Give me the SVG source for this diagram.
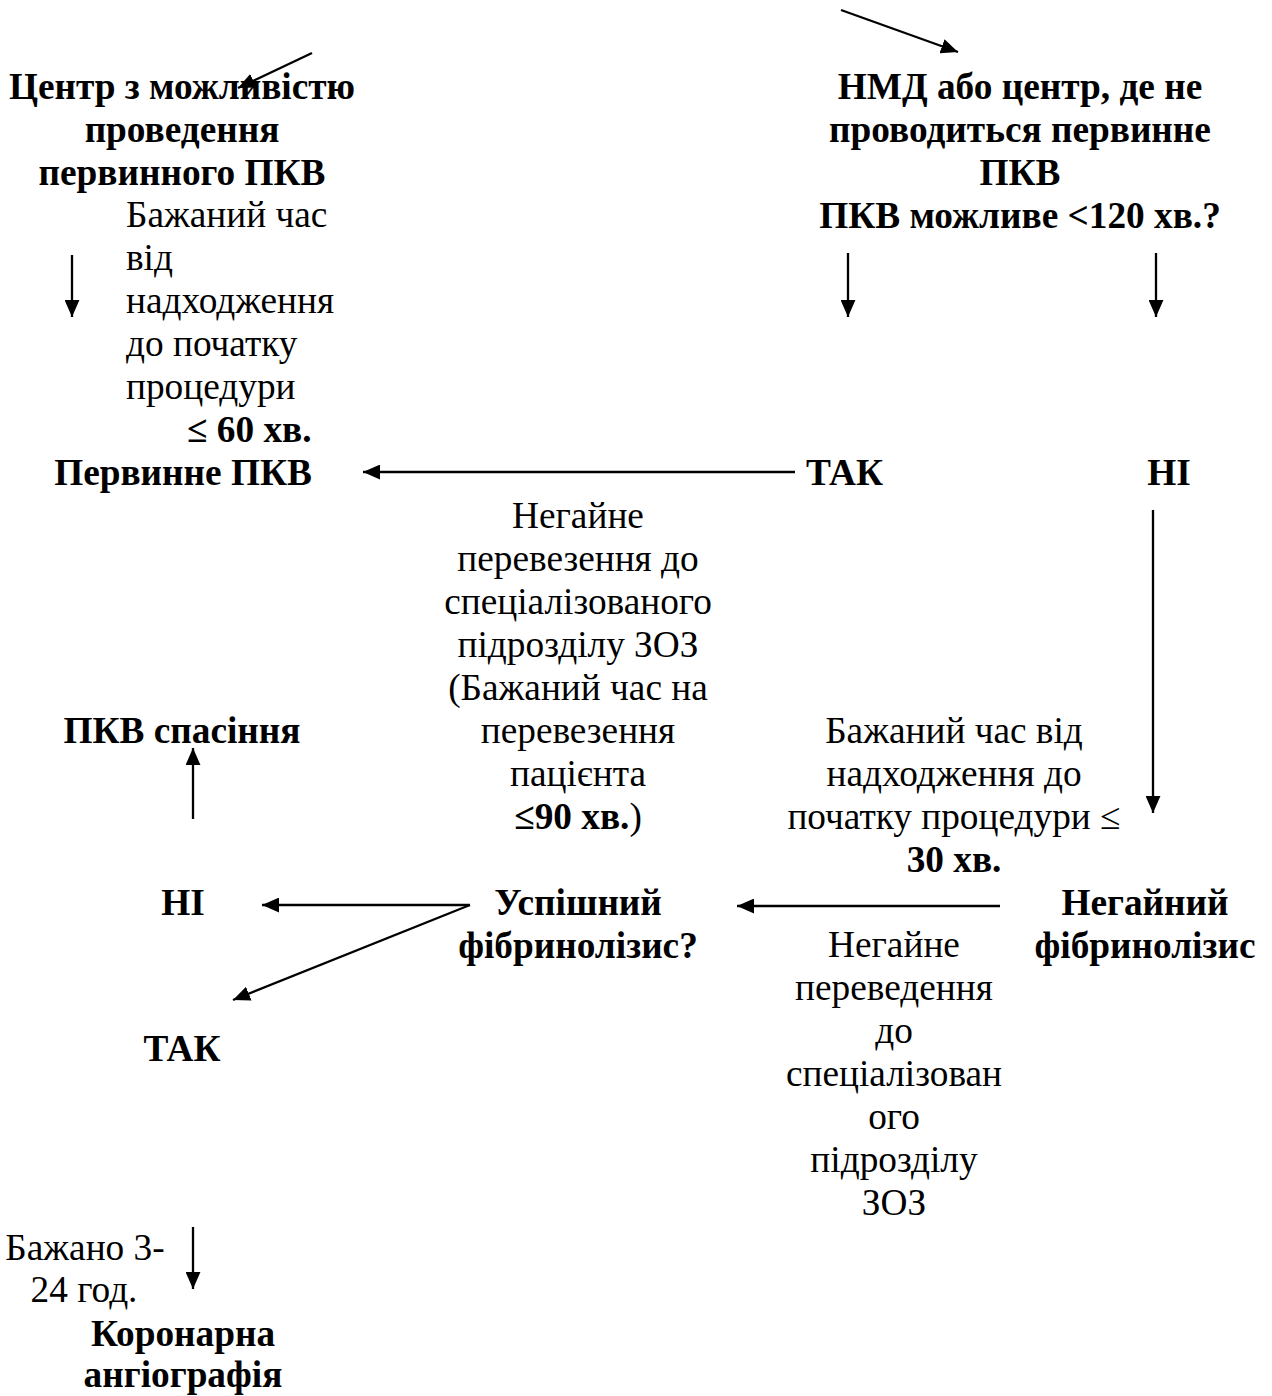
<svg xmlns="http://www.w3.org/2000/svg" width="1272" height="1396" viewBox="0 0 1272 1396">
<style>
text{font-family:"Liberation Serif","Times New Roman",serif;font-size:37.3px;fill:#000}
.b{font-weight:bold}
.c{text-anchor:middle}
.conn line{stroke:#000;stroke-width:2.3;fill:none}
</style>
<defs>
<marker id="ah" viewBox="0 0 16 14" refX="16" refY="7" markerWidth="17" markerHeight="15" orient="auto" markerUnits="userSpaceOnUse">
<path d="M0,0 L16,7 L0,14 Z" fill="#000"/>
</marker>
</defs>
<rect width="1272" height="1396" fill="#fff"/>
<g id="n-center-pci">
<text class="b c" x="182" y="99">Центр з можливістю</text>
<text class="b c" x="182" y="142">проведення</text>
<text class="b c" x="182" y="185">первинного ПКВ</text>
</g>
<g id="n-nmd">
<text class="b c" x="1020" y="99">НМД або центр, де не</text>
<text class="b c" x="1020" y="142">проводиться первинне</text>
<text class="b c" x="1020" y="185">ПКВ</text>
<text class="b c" x="1020" y="228">ПКВ можливе &lt;120 хв.?</text>
</g>
<g id="n-time60">
<text x="126" y="227">Бажаний час</text>
<text x="126" y="270">від</text>
<text x="126" y="313">надходження</text>
<text x="126" y="356">до початку</text>
<text x="126" y="399">процедури</text>
<text class="b" x="187" y="442">≤ 60 хв.</text>
</g>
<g id="n-primary-pci"><text class="b c" x="183" y="485">Первинне ПКВ</text></g>
<g id="n-tak1"><text class="b" x="806" y="485">ТАК</text></g>
<g id="n-ni1"><text class="b c" x="1169" y="485">НІ</text></g>
<g id="n-transport">
<text class="c" x="578" y="528">Негайне</text>
<text class="c" x="578" y="571">перевезення до</text>
<text class="c" x="578" y="614">спеціалізованого</text>
<text class="c" x="578" y="657">підрозділу ЗОЗ</text>
<text class="c" x="578" y="700">(Бажаний час на</text>
<text class="c" x="578" y="743">перевезення</text>
<text class="c" x="578" y="786">пацієнта</text>
<text class="c" x="578" y="829"><tspan class="b">≤90 хв.</tspan>)</text>
</g>
<g id="n-rescue"><text class="b c" x="182" y="743">ПКВ спасіння</text></g>
<g id="n-time30">
<text class="c" x="954" y="743">Бажаний час від</text>
<text class="c" x="954" y="786">надходження до</text>
<text class="c" x="954" y="829">початку процедури ≤</text>
<text class="b c" x="954" y="872">30 хв.</text>
</g>
<g id="n-ni2"><text class="b c" x="183" y="915">НІ</text></g>
<g id="n-success">
<text class="b c" x="578" y="915">Успішний</text>
<text class="b c" x="578" y="958">фібринолізис?</text>
</g>
<g id="n-fibrinolysis">
<text class="b c" x="1145" y="915">Негайний</text>
<text class="b c" x="1145" y="958">фібринолізис</text>
</g>
<g id="n-transfer">
<text class="c" x="894" y="957">Негайне</text>
<text class="c" x="894" y="1000">переведення</text>
<text class="c" x="894" y="1043">до</text>
<text class="c" x="894" y="1086">спеціалізован</text>
<text class="c" x="894" y="1129">ого</text>
<text class="c" x="894" y="1172">підрозділу</text>
<text class="c" x="894" y="1215">ЗОЗ</text>
</g>
<g id="n-tak2"><text class="b c" x="182" y="1061">ТАК</text></g>
<g id="n-time324">
<text class="c" x="85" y="1260">Бажано 3-</text>
<text class="c" x="84" y="1302">24 год.</text>
</g>
<g id="n-angio">
<text class="b c" x="183" y="1346">Коронарна</text>
<text class="b c" x="183" y="1387">ангіографія</text>
</g>
<g class="conn" id="connectors">
<line x1="312" y1="53" x2="238" y2="88" marker-end="url(#ah)"/>
<line x1="841" y1="10" x2="958" y2="52" marker-end="url(#ah)"/>
<line x1="72" y1="255" x2="72" y2="317" marker-end="url(#ah)"/>
<line x1="848" y1="253" x2="848" y2="317" marker-end="url(#ah)"/>
<line x1="1156" y1="253" x2="1156" y2="317" marker-end="url(#ah)"/>
<line x1="795" y1="472" x2="363" y2="472" marker-end="url(#ah)"/>
<line x1="1153" y1="510" x2="1153" y2="813" marker-end="url(#ah)"/>
<line x1="193" y1="819" x2="193" y2="748" marker-end="url(#ah)"/>
<line x1="470" y1="905" x2="262" y2="905" marker-end="url(#ah)"/>
<line x1="470" y1="905" x2="233" y2="1000" marker-end="url(#ah)"/>
<line x1="1000" y1="906" x2="737" y2="906" marker-end="url(#ah)"/>
<line x1="193" y1="1227" x2="193" y2="1289" marker-end="url(#ah)"/>
</g>
</svg>
